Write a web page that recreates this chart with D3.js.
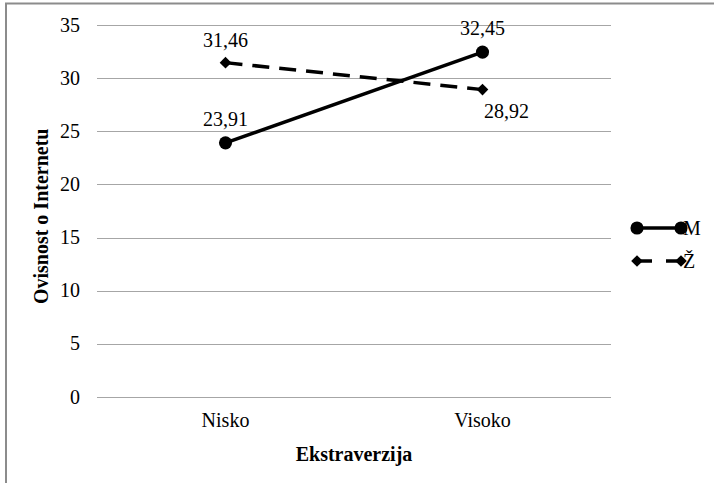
<!DOCTYPE html>
<html>
<head>
<meta charset="utf-8">
<script src="https://cdn.jsdelivr.net/npm/d3@7"></script>
<style>
  body { margin: 0; background: #fff; }
</style>
</head>
<body>
<svg id="graph"></svg>
<script>
const categories = ["Nisko", "Visoko"];
const seriesNames = ["M", "Ž"];
const valuesM = [23.91, 32.45];
const valuesZ = [31.46, 28.92];
const yTicks = [0, 5, 10, 15, 20, 25, 30, 35];

const width = 714;
const height = 483;
const margin = { top: 25, right: 103, bottom: 86, left: 97 };
const font = "'Liberation Serif', 'Times New Roman', serif";
const fs = 20;

const svg = d3.select("#graph")
  .attr("width", width)
  .attr("height", height)
  .attr("font-family", font);

// chart frame
svg.append("path")
  .attr("d", "M6,483 V3.5 H714")
  .attr("fill", "none")
  .attr("stroke", "#8c8c8c")
  .attr("stroke-width", 2);

const x = d3.scaleBand()
  .domain(categories)
  .range([margin.left, width - margin.right]);

const y = d3.scaleLinear()
  .domain([0, 35])
  .range([height - margin.bottom, margin.top]);

// gridlines
svg.append("g")
  .selectAll("line")
  .data(yTicks)
  .join("line")
  .attr("x1", margin.left)
  .attr("x2", width - margin.right)
  .attr("y1", (d) => Math.round(y(d)) + 0.5)
  .attr("y2", (d) => Math.round(y(d)) + 0.5)
  .attr("stroke", "#a6a6a6")
  .attr("stroke-width", 1);

// y tick labels
svg.append("g")
  .selectAll("text")
  .data(yTicks)
  .join("text")
  .attr("x", 80)
  .attr("y", (d) => y(d))
  .attr("dy", "0.33em")
  .attr("text-anchor", "end")
  .attr("font-size", fs)
  .text((d) => d);

// x tick labels
svg.append("g")
  .selectAll("text")
  .data(categories)
  .join("text")
  .attr("x", (d) => x(d) + x.bandwidth() / 2)
  .attr("y", 427)
  .attr("text-anchor", "middle")
  .attr("font-size", fs)
  .text((d) => d);

// axis titles
svg.append("text")
  .attr("x", (margin.left + width - margin.right) / 2)
  .attr("y", 461)
  .attr("text-anchor", "middle")
  .attr("font-size", fs)
  .attr("font-weight", "bold")
  .text("Ekstraverzija");

svg.append("text")
  .attr("transform", `translate(48,${y(17)}) rotate(-90)`)
  .attr("text-anchor", "middle")
  .attr("font-size", fs)
  .attr("font-weight", "bold")
  .text("Ovisnost o Internetu");

const cx = (d, i) => x(categories[i]) + x.bandwidth() / 2;
const line = d3.line().x(cx).y((d) => y(d));

const series = [
  { name: seriesNames[0], values: valuesM, dash: null, symbol: d3.symbolCircle, size: 135, rot: 0 },
  { name: seriesNames[1], values: valuesZ, dash: "17,10", symbol: d3.symbolSquare, size: 68, rot: 45 }
];

series.forEach((s) => {
  svg.append("path")
    .attr("d", line(s.values))
    .attr("fill", "none")
    .attr("stroke", "#000")
    .attr("stroke-width", 3.5)
    .attr("stroke-dasharray", s.dash);
  svg.append("g")
    .selectAll("path")
    .data(s.values)
    .join("path")
    .attr("transform", (d, i) => `translate(${cx(d, i)},${y(d)}) rotate(${s.rot})`)
    .attr("d", d3.symbol(s.symbol, s.size))
    .attr("fill", "#000");
});

// data labels
const fmt = (v) => v.toFixed(2).replace(".", ",");
const labelPos = [
  { v: valuesM[0], i: 0, dx: 0, dy: -17 },
  { v: valuesM[1], i: 1, dx: 0, dy: -17 },
  { v: valuesZ[0], i: 0, dx: 0, dy: -16 },
  { v: valuesZ[1], i: 1, dx: 24, dy: 28 }
];
svg.append("g")
  .selectAll("text")
  .data(labelPos)
  .join("text")
  .attr("x", (d) => cx(d.v, d.i) + d.dx)
  .attr("y", (d) => y(d.v) + d.dy)
  .attr("text-anchor", "middle")
  .attr("font-size", fs)
  .text((d) => fmt(d.v));

// legend
const legend = svg.append("g");
series.forEach((s, k) => {
  const ly = 228 + k * 33;
  legend.append("line")
    .attr("x1", 637).attr("x2", 681)
    .attr("y1", ly).attr("y2", ly)
    .attr("stroke", "#000")
    .attr("stroke-width", 3.5)
    .attr("stroke-dasharray", k === 1 ? "15,14" : null);
  [637, 681].forEach((lx) => {
    legend.append("path")
      .attr("transform", `translate(${lx},${ly}) rotate(${s.rot})`)
      .attr("d", d3.symbol(s.symbol, s.size))
      .attr("fill", "#000");
  });
  legend.append("text")
    .attr("x", 683)
    .attr("y", ly)
    .attr("dy", "0.35em")
    .attr("font-size", fs)
    .text(s.name);
});
</script>
</body>
</html>
